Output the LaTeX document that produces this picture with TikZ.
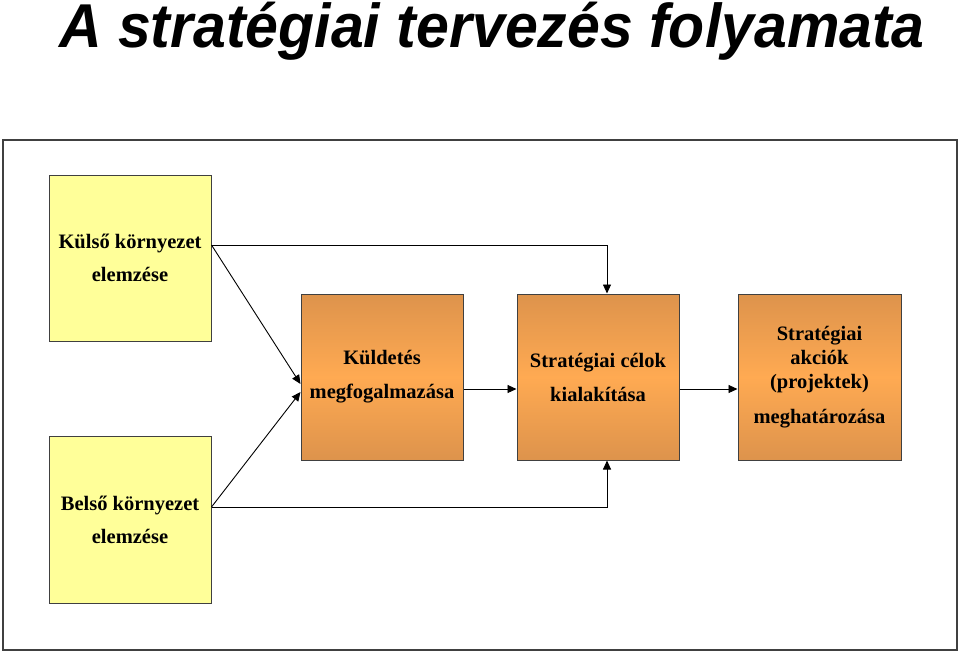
\documentclass[tikz,border=0pt]{standalone}
\usepackage{fontspec}
\usepackage{graphicx}
\setmainfont{Liberation Serif}
\newfontfamily\titlefont{Liberation Sans}
\usetikzlibrary{arrows.meta, positioning}
\definecolor{paleyellow}{RGB}{255,255,153}
\definecolor{orangedark}{RGB}{221,147,76}
\definecolor{orangelight}{RGB}{255,170,82}
\definecolor{framegray}{RGB}{64,64,64}
\tikzset{
  box/.style={rectangle, draw=framegray, line width=1pt,
              minimum width=162pt, minimum height=166pt,
              align=center, inner sep=2pt,
              font=\fontsize{20.5}{24}\selectfont\bfseries},
  envbox/.style={box, fill=paleyellow},
  stepbox/.style={box, top color=orangedark, bottom color=orangedark,
                  middle color=orangelight},
  arr/.style={-{Triangle[length=9pt,width=8pt]}, line width=0.9pt},
  headline/.style={anchor=base,
                   font=\titlefont\fontsize{59}{59}\selectfont\bfseries\itshape},
}

\begin{document}
\begin{tikzpicture}[x=1pt, y=-1pt]

  \useasboundingbox (0,0) rectangle (960,653);

  \node[headline] (title) at (492,47)
    {\scalebox{1}[1.05]{A stratégiai tervezés folyamata}};

  \draw[framegray, line width=1.5pt] (3,140) rectangle (957,650);

  \node[envbox] (ext) at (130,258) {Külső környezet\\[9pt]elemzése};
  \node[envbox, minimum height=167pt] (int) at (130,519.5) {Belső környezet\\[9pt]elemzése};

  \node[stepbox] (mission) at (382,377) {Küldetés\\[10pt]megfogalmazása};
  \node[stepbox] (goals) at (598,377) {Stratégiai célok\\[10pt]kialakítása};
  \node[stepbox, minimum width=163pt] (actions) at (819.5,377)
    {Stratégiai\\akciók\\(projektek)\\[11pt]meghatározása};

  \draw[arr] ([yshift=13pt]ext.east) -| ([xshift=9pt]goals.north);
  \draw[arr] ([yshift=13pt]ext.east) -- ([yshift=-7pt]mission.west);
  \draw[arr] ([yshift=12.5pt]int.east) -- ([yshift=-15pt]mission.west);
  \draw[arr] ([yshift=12.5pt]int.east) -| ([xshift=9pt]goals.south);
  \draw[arr] ([yshift=-12pt]mission.east) -- ([yshift=-12pt]goals.west);
  \draw[arr] ([yshift=-12pt]goals.east) -- ([yshift=-12pt]actions.west);

\end{tikzpicture}
\end{document}
